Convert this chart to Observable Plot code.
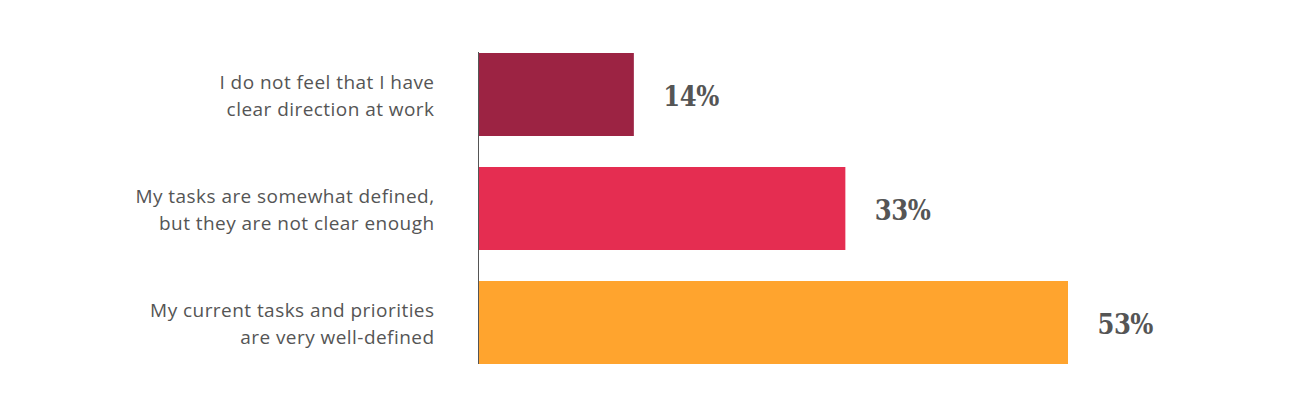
<!DOCTYPE html>
<html>
<head>
<meta charset="utf-8">
<script src="https://cdn.jsdelivr.net/npm/d3@7"></script>
<script src="https://cdn.jsdelivr.net/npm/@observablehq/plot@0.6"></script>
<style>
  html, body { margin: 0; padding: 0; background: #fff; }
  .val text, text.val, .val { font-stretch: condensed; letter-spacing: -0.5px; }
  .cat text, text.cat, .cat { letter-spacing: 0.45px; }
</style>
</head>
<body>
<div id="chart"></div>
<script>
const categories = [
  "I do not feel that I have\nclear direction at work",
  "My tasks are somewhat defined,\nbut they are not clear enough",
  "My current tasks and priorities\nare very well-defined"
];
const values = [14, 33, 53];
const valueLabels = ["14%", "33%", "53%"];

const data = categories.map((c, i) => ({ category: c, value: values[i], label: valueLabels[i] }));
const barColors = ["#9C2343", "#E52D51", "#FFA42E"];

const chart = Plot.plot({
  width: 1292,
  height: 417,
  marginLeft: 478,
  marginRight: 224,
  marginTop: 52,
  marginBottom: 53,
  x: { domain: [0, 53], axis: null },
  y: { domain: categories, axis: null, paddingInner: 0.275, paddingOuter: 0 },
  color: { domain: categories, range: barColors },
  style: { background: "#fff" },
  marks: [
    Plot.barX(data, { x: "value", y: "category", fill: "category" }),
    Plot.ruleX([0], { stroke: "#555", strokeWidth: 1 }),
    Plot.text(data, {
      x: 0, y: "category", text: "category",
      textAnchor: "end", dx: -44, dy: -1, lineHeight: 1.42,
      fontSize: 19, fill: "#555", fontFamily: "'Open Sans', sans-serif",
      className: "cat"
    }),
    Plot.text(data, {
      x: "value", y: "category", text: "label",
      textAnchor: "start", dx: 29, dy: 2,
      fontSize: 27, fontWeight: "bold", fill: "#555",
      fontFamily: "'DejaVu Serif Condensed', 'DejaVu Serif', serif",
      className: "val"
    })
  ]
});
document.getElementById("chart").appendChild(chart);
</script>
</body>
</html>
